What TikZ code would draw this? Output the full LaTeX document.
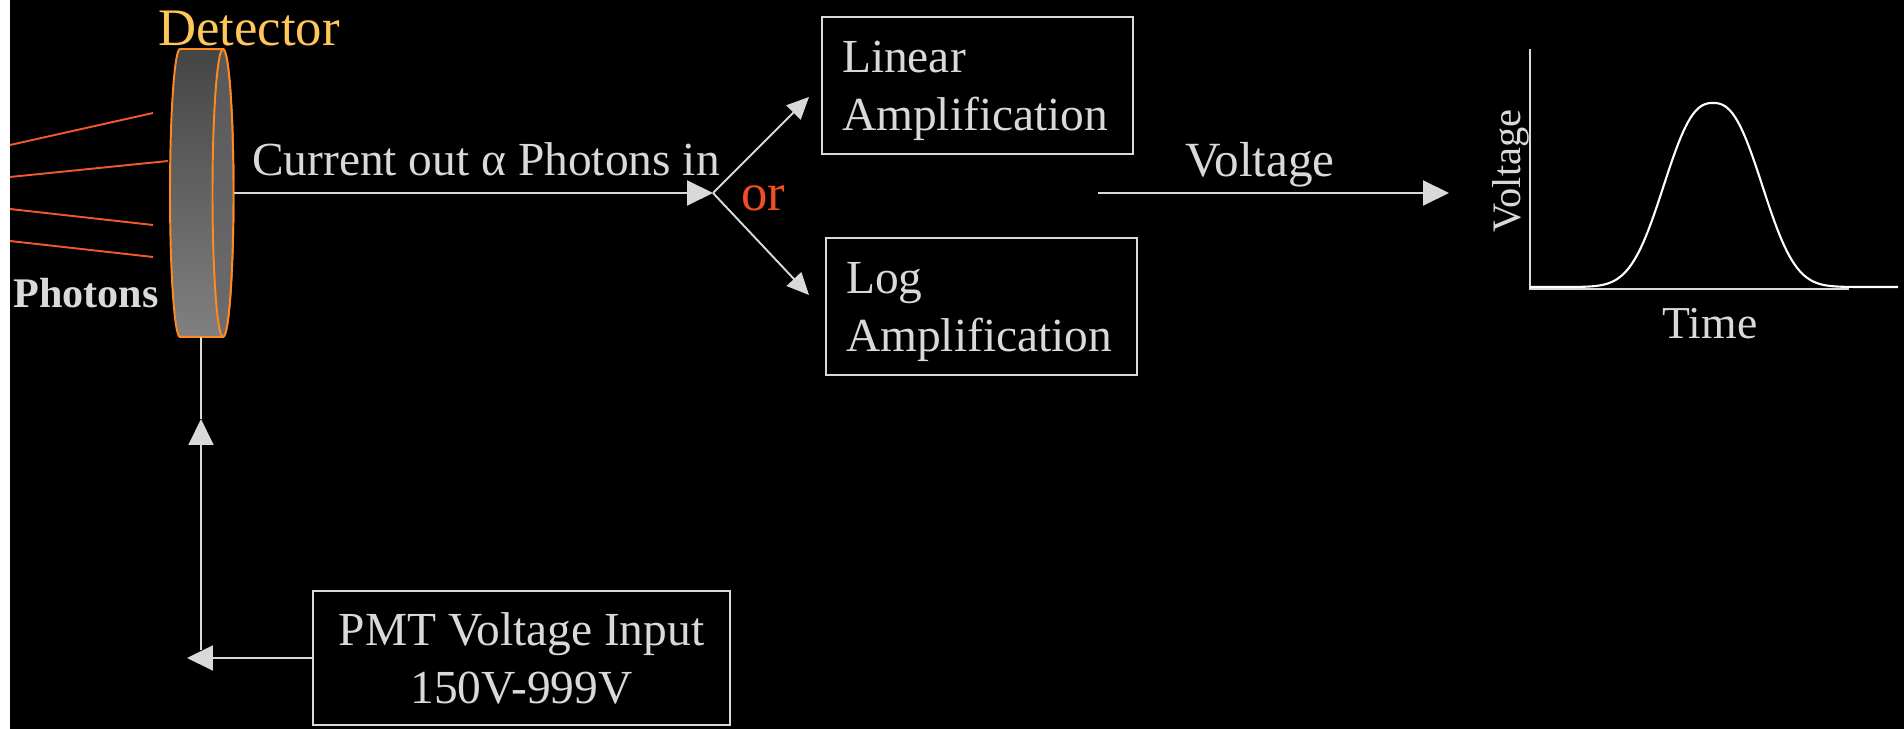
\documentclass[tikz,border=0pt]{standalone}
\usepackage{fontspec}
\setmainfont{Liberation Serif}
\usetikzlibrary{arrows.meta}
\definecolor{fg}{HTML}{D9D9D9}
\definecolor{rim}{HTML}{FF8A1F}
\definecolor{gold}{HTML}{FFC659}
\definecolor{ray}{HTML}{F2592A}
\definecolor{redor}{HTML}{F04E23}
\definecolor{cyltop}{HTML}{454545}
\definecolor{cylbot}{HTML}{808080}
\tikzset{conn/.style={fg, line width=1.1pt},
         arr/.style={conn, -{Triangle[length=0.52cm,width=0.5cm]}},
         branch/.style={conn, -{Triangle[length=0.44cm,width=0.4cm]}},
         lbl/.style={text=fg, inner sep=0pt, anchor=base,
                     font=\fontsize{27}{33}\selectfont},
         stage/.style={draw=fg, line width=1.1pt, text=fg,
                       minimum width=6.22cm, minimum height=2.74cm,
                       font=\fontsize{27}{33}\selectfont},
         amp/.style={stage, inner xsep=0.4cm, text width=5.42cm, align=left,
                     execute at begin node={\rule{0pt}{24.5pt}}}}

\begin{document}
\begin{tikzpicture}[x=0.02cm, y=-0.02cm]
  \useasboundingbox (0,0) rectangle (1904,729);
  \fill[black] (0,0) rectangle (1904,729);
  \fill[white] (0,0) rectangle (10,729);

  % incoming light
  \draw[ray, line width=1.1pt] (10,145) -- (153,113) (10,177) -- (168,161)
    (10,209) -- (153,225) (10,241) -- (153,257);
  \node[lbl, font=\bfseries\fontsize{24}{29}\selectfont] (photons) at (86,308) {Photons};

  % the detector, a short cylinder
  \begin{scope}[draw=rim, line width=1.1pt]
    \shadedraw[top color=cyltop, bottom color=cylbot]
      (180,49) arc[start angle=90, end angle=270, x radius=0.2cm, y radius=2.88cm]
      -- (223,337) arc[start angle=-90, end angle=90, x radius=0.21cm, y radius=2.88cm]
      -- cycle;
    \shadedraw[top color=cyltop!90!white, bottom color=cylbot!85!black]
      (223,193) ellipse[x radius=0.21cm, y radius=2.88cm];
  \end{scope}
  \node[lbl, text=gold, font=\fontsize{30}{36}\selectfont] (detlbl) at (249,46) {Detector};

  \coordinate (detR) at (234,193);
  \coordinate (detB) at (201,337);
  \coordinate (fork) at (713,193);
  \coordinate (linIn) at (809,97);
  \coordinate (logIn) at (809,295);
  \coordinate (vIn) at (1098,193);
  \coordinate (vOut) at (1449,193);
  \coordinate (feed) at (201,650);
  \coordinate (feedTip) at (201,419);
  \coordinate (pmtTip) at (187,658);

  % amplifier stages
  \node[amp] (lin) at (977.5,85.5) {Linear\\Amplification};
  \node[amp] (log) at (981.5,306.5) {Log\\Amplification};
  \node[stage, minimum width=8.34cm, minimum height=2.68cm,
        align=center] (pmt) at (521.5,658) {PMT Voltage Input\\150V-999V};

  \draw[arr] (detR) -- (fork);
  \node[lbl] (current) at (486,176) {Current out α Photons in};
  \draw[branch] (fork) -- (linIn);
  \draw[branch] (fork) -- (logIn);
  \node[lbl, text=redor, font=\fontsize{30}{36}\selectfont] (or) at (763,211) {or};

  \draw[arr] (vIn) -- (vOut);
  \node[lbl, font=\fontsize{28}{34}\selectfont] (volt) at (1260,177) {Voltage};

  % high voltage feed
  \draw[arr] (pmt.west) -- (pmtTip);
  \draw[arr] (feed) -- (feedTip);
  \draw[conn] (feedTip) -- (detB);

  % output pulse
  \coordinate (orig) at (1530,289);
  \draw[conn] (1530,49) -- (orig) -- (1849,289);
  \draw[white, line width=1.2pt] plot[domain=1530:1898, samples=150]
    (\x, {287-184*exp(-(abs(\x-1713)/60.7+0.001)^2.5)});
  \node[lbl, rotate=90, font=\fontsize{23}{28}\selectfont] (ylab) at (1520,171) {Voltage};
  \node[lbl, font=\fontsize{26}{31}\selectfont] (tlbl) at (1710,339) {Time};
\end{tikzpicture}
\end{document}
